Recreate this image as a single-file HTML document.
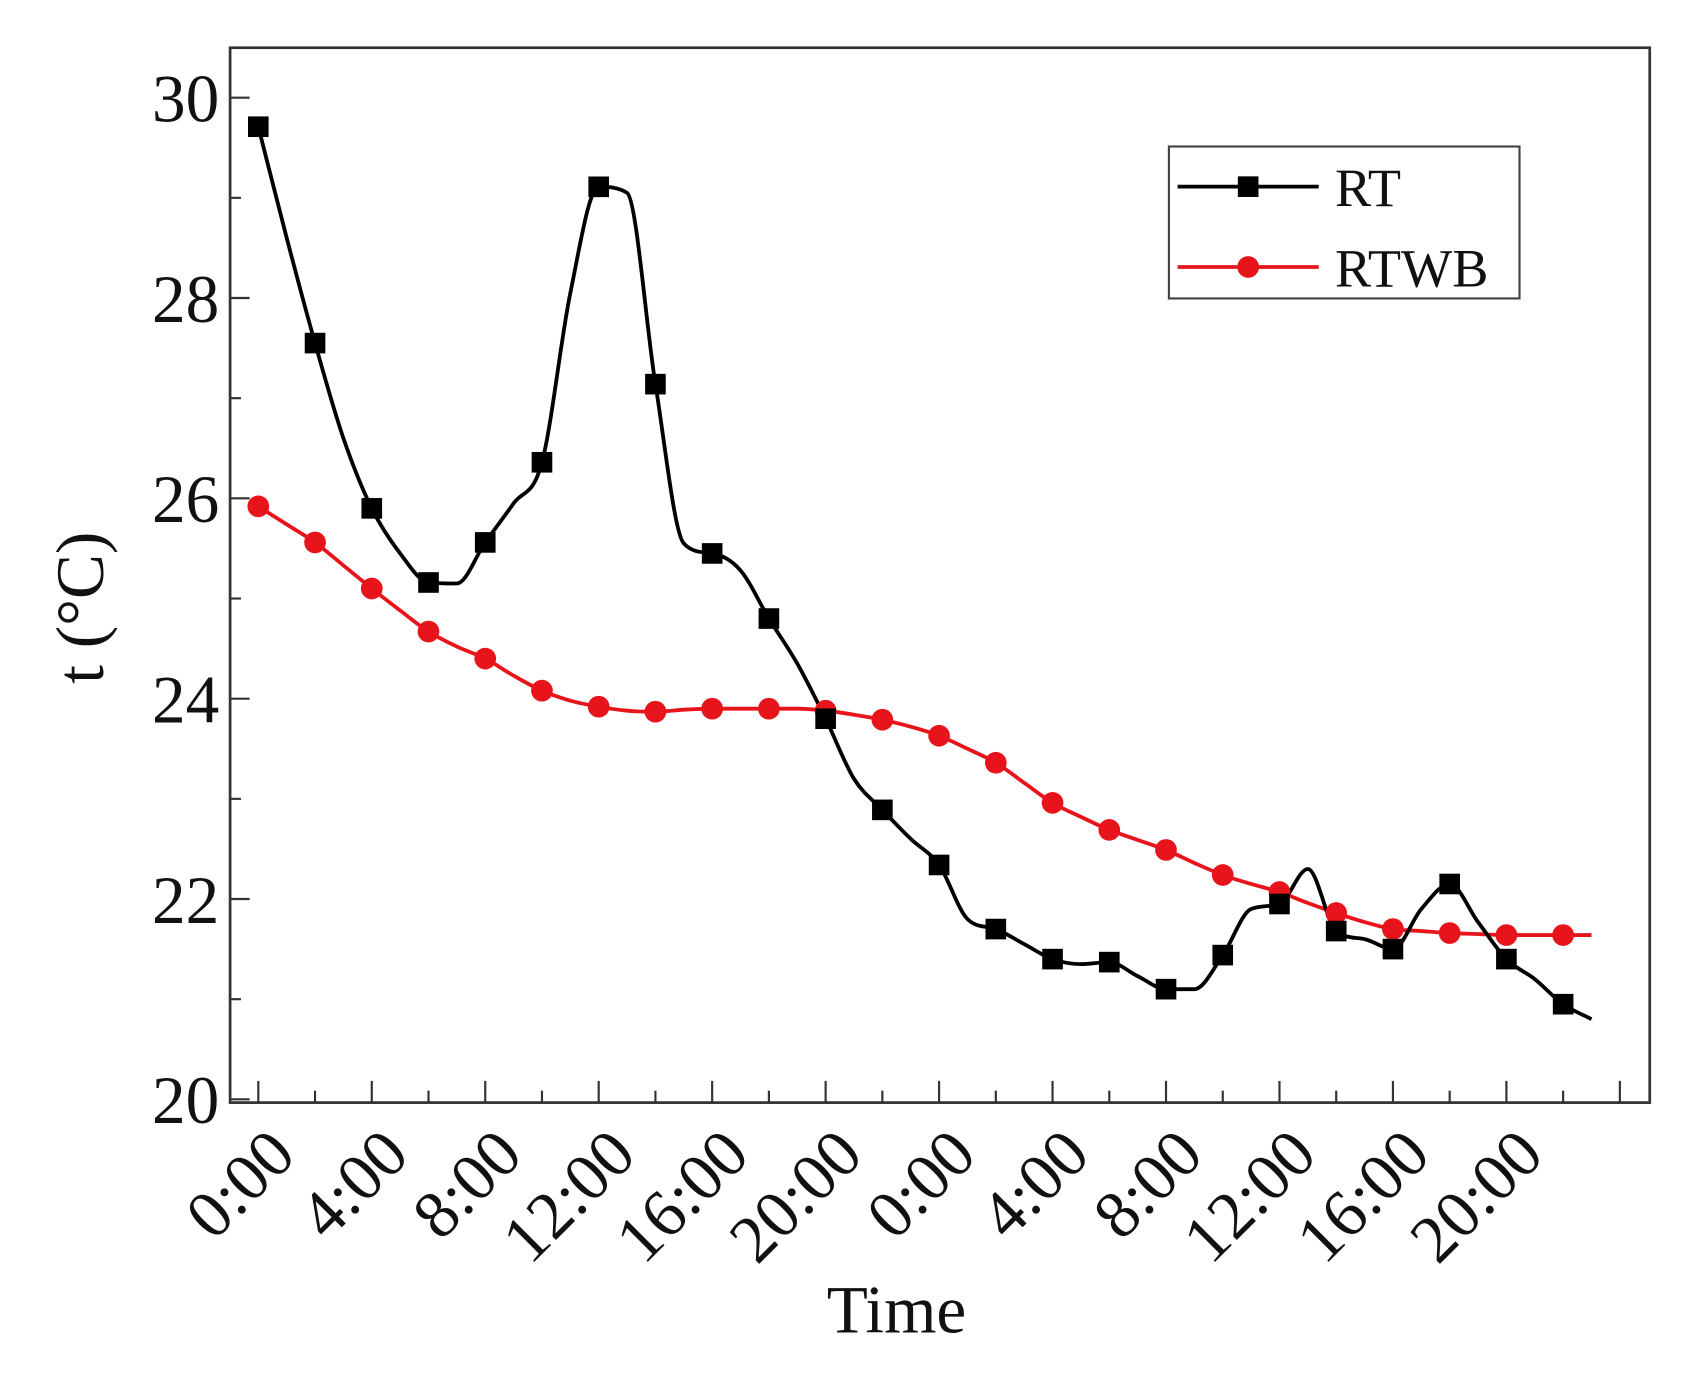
<!DOCTYPE html>
<html><head><meta charset="utf-8"><style>html,body{margin:0;padding:0;background:#fff}svg{display:block}</style></head>
<body>
<svg id="chart" width="1704" height="1375" viewBox="0 0 1570 1267" preserveAspectRatio="none" xmlns="http://www.w3.org/2000/svg" font-family="'Liberation Serif', serif">
<rect x="0" y="0" width="1570" height="1267" fill="#fff"/>
<g id="plot"></g>
</svg>
<script>
const rtValues = [29.71,28.6,27.55,26.6,25.9,25.45,25.16,25.15,25.56,25.95,26.36,28.05,29.11,29.05,27.14,25.55,25.45,25.28,24.8,24.35,23.8,23.2,22.89,22.6,22.34,21.8,21.7,21.55,21.4,21.35,21.37,21.23,21.1,21.1,21.44,21.9,21.95,22.3,21.68,21.6,21.5,21.9,22.15,21.77,21.4,21.2,20.95,20.8];
const rtwbValues = [25.92,25.74,25.56,25.33,25.1,24.88,24.67,24.52,24.4,24.23,24.08,23.98,23.92,23.88,23.87,23.89,23.9,23.9,23.9,23.9,23.88,23.84,23.79,23.72,23.63,23.5,23.36,23.16,22.96,22.82,22.69,22.59,22.49,22.36,22.24,22.15,22.07,21.96,21.86,21.77,21.7,21.68,21.66,21.65,21.64,21.64,21.64,21.64];
const xTickLabels = ["0:00","4:00","8:00","12:00","16:00","20:00","0:00","4:00","8:00","12:00","16:00","20:00"];
const yTicks = [20,22,24,26,28,30];

const NS="http://www.w3.org/2000/svg";
const plot=document.getElementById('plot');
const L=212,R=1520,T=44,B=1016;
const xs=i=>238+i*52.27;
const ys=v=>1013-(v-20)*92.3;
function mk(tag,attrs,parent){const e=document.createElementNS(NS,tag);for(const k in attrs)e.setAttribute(k,attrs[k]);(parent||plot).appendChild(e);return e;}

const frame=mk('rect',{x:L,y:T,width:R-L,height:B-T,fill:'none',stroke:'#333',"stroke-width":2.5});



for(let v=20;v<=30.5;v+=1){
  const y=ys(v);const major=v%2===0;
  const t=mk('line',{x1:L,x2:L+(major?18:10),y1:y,y2:y,stroke:'#333',"stroke-width":2});
  
  
}
yTicks.forEach(v=>{
  const t=mk('text',{x:202,y:ys(v)+22,"text-anchor":"end","font-size":62,fill:'#111'});
  t.textContent=v;
  
  
});
for(let i=0;i<=24;i++){
  const x=xs(i);const major=i%2===0;
  const t=mk('line',{x1:x,x2:x,y1:B,y2:B-(major?20:11),stroke:'#333',"stroke-width":2});
  
  
}
xTickLabels.forEach((s,k)=>{
  const x=xs(k*2)+6,y=B+20;
  const t=mk('text',{x:x,y:y,"text-anchor":"end","font-size":62,fill:'#111',transform:`rotate(-45 ${x} ${y})`,dy:"0.7em"});
  t.textContent=s;
  
  
});
const xt=mk('text',{x:826,y:1228,"text-anchor":"middle","font-size":62,fill:'#111'});xt.textContent='Time';


const yt=mk('text',{x:0,y:0,"text-anchor":"middle","font-size":62,fill:'#111',transform:'translate(95 560) rotate(-90)'});yt.textContent='t (°C)';



function monoPath(vals){
  const p=vals.map((v,i)=>[xs(i*0.5),ys(v)]);
  const n=p.length,h=p[1][0]-p[0][0];
  const d=[];for(let i=0;i<n-1;i++)d.push((p[i+1][1]-p[i][1])/h);
  const m=new Array(n);
  m[0]=d[0];m[n-1]=d[n-2];
  for(let i=1;i<n-1;i++){ m[i]=(d[i-1]*d[i]<=0)?0:(d[i-1]+d[i])/2; }
  for(let i=0;i<n-1;i++){
    if(d[i]===0){m[i]=0;m[i+1]=0;continue;}
    const a=m[i]/d[i],b=m[i+1]/d[i],s=a*a+b*b;
    if(s>9){const t=3/Math.sqrt(s);m[i]=t*a*d[i];m[i+1]=t*b*d[i];}
  }
  let s=`M${p[0][0]},${p[0][1]}`;
  for(let i=0;i<n-1;i++){
    s+=` C${p[i][0]+h/3},${p[i][1]+m[i]*h/3} ${p[i+1][0]-h/3},${p[i+1][1]-m[i+1]*h/3} ${p[i+1][0]},${p[i+1][1]}`;
  }
  return s;
}
const rtwbLine=mk('path',{d:monoPath(rtwbValues),fill:'none',stroke:'#e8141b',"stroke-width":3.5});


const rtLine=mk('path',{d:monoPath(rtValues),fill:'none',stroke:'#000',"stroke-width":3.5});


rtwbValues.forEach((v,i)=>{ if(i%2) return;
  const c=mk('circle',{cx:xs(i/2),cy:ys(v),r:10,fill:'#e8141b'});
  
  
});
rtValues.forEach((v,i)=>{ if(i%2) return;
  const s=mk('rect',{x:xs(i/2)-9.5,y:ys(v)-9.5,width:19,height:19,fill:'#000'});
  
  
});
const lg=mk('g',{});


mk('rect',{x:1077,y:135,width:323,height:140,fill:'#fff',stroke:'#444',"stroke-width":2},lg);
const e1=mk('g',{},lg);


mk('line',{x1:1085,x2:1215,y1:172,y2:172,stroke:'#000',"stroke-width":3.5},e1);
mk('rect',{x:1140.5,y:162.5,width:19,height:19,fill:'#000'},e1);
const t1=mk('text',{x:1230,y:190,"font-size":50,fill:'#111'},e1);t1.textContent='RT';
const e2=mk('g',{},lg);


mk('line',{x1:1085,x2:1215,y1:246,y2:246,stroke:'#e8141b',"stroke-width":3.5},e2);
mk('circle',{cx:1150,cy:246,r:10,fill:'#e8141b'},e2);
const t2=mk('text',{x:1230,y:264,"font-size":50,fill:'#111'},e2);t2.textContent='RTWB';
</script>
</body></html>
